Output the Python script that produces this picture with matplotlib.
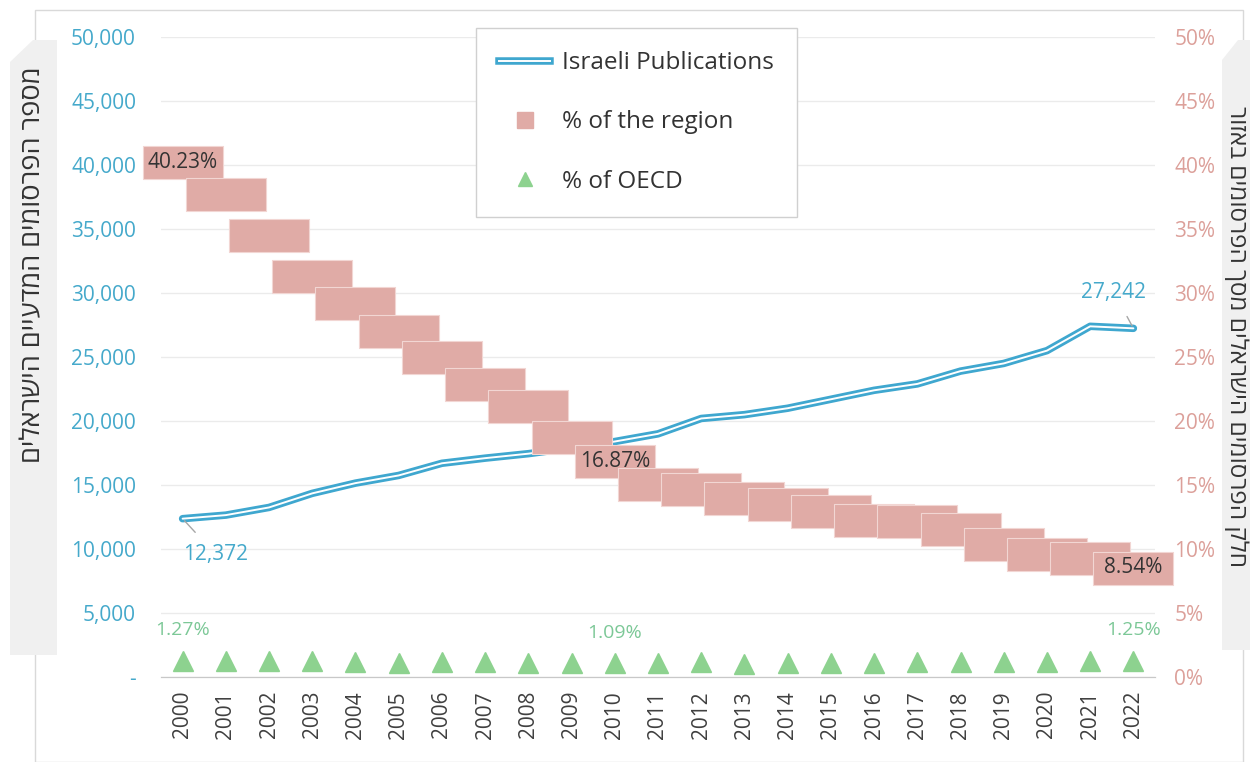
import matplotlib.pyplot as plt
import matplotlib.patheffects as pe
from matplotlib.lines import Line2D
from matplotlib.patches import Polygon, Rectangle
from matplotlib.path import Path

plt.rcParams['font.family'] = ['Open Sans', 'DejaVu Sans']

years = [str(y) for y in range(2000, 2023)]
publications = [12372, 12650, 13250, 14350, 15150, 15750, 16700, 17100, 17450,
                17900, 18400, 19000, 20200, 20500, 21000, 21700, 22400, 22900,
                23900, 24500, 25500, 27400, 27242]
region_pct = [40.23, 37.7, 34.5, 31.3, 29.2, 27.0, 25.0, 22.9, 21.2, 18.75,
              16.87, 15.1, 14.7, 14.0, 13.5, 13.0, 12.3, 12.2, 11.6, 10.4,
              9.6, 9.3, 8.54]
oecd_pct = [1.27, 1.28, 1.26, 1.25, 1.2, 1.12, 1.15, 1.18, 1.13, 1.1, 1.09,
            1.12, 1.14, 1.02, 1.12, 1.12, 1.13, 1.15, 1.15, 1.16, 1.19, 1.23,
            1.25]
left_ticks = list(range(0, 50001, 5000))
right_ticks = list(range(0, 51, 5))

# which points carry a label
region_labeled = [0, 10, 22]
oecd_labeled = [0, 10, 22]

blue = '#3FA7CF'
blue_txt = '#45A9CB'
pink = '#E0ABA6'
pink_txt = '#DCA09A'
green = '#8DD28F'
green_txt = '#7CC897'
dark = '#333333'

left_title = 'מספר הפרסומים המדעיים הישראלים'
right_title = 'חלק הפרסומים הישראלים מסך הפרסומים באזור'

W, H = 1250, 762
fig = plt.figure(figsize=(W / 100, H / 100), dpi=100)

# outer frame and side panels (pixel coords -> figure fraction)
def px(x, y):
    return (x / W, 1 - y / H)

fig.patches.append(Rectangle(px(35, 762), (1243 - 35) / W, (762 - 10) / H,
                             transform=fig.transFigure, fill=False,
                             edgecolor='#D9D9D9', lw=1))
fig.patches.append(Polygon([px(10, 655), px(57, 655), px(57, 40), px(33, 40),
                            px(10, 62)], closed=True, transform=fig.transFigure,
                           facecolor='#F0F0F0', edgecolor='none'))
fig.patches.append(Polygon([px(1222, 650), px(1250, 650), px(1250, 40),
                            px(1238, 40), px(1222, 60)], closed=True,
                           transform=fig.transFigure, facecolor='#F0F0F0',
                           edgecolor='none'))
fig.text(33 / W, 1 - 265 / H, left_title[::-1], rotation=90, ha='center',
         va='center', fontsize=19.5, color=dark)
fig.text(1236 / W, 1 - 337 / H, right_title[::-1], rotation=-90, ha='center',
         va='center', fontsize=17.5, color=dark)

ax = fig.add_axes([0.1288, 0.1115, 0.7952, 0.8399])
ax2 = ax.twinx()
x = list(range(len(years)))

# Israeli publications: double line
ax.plot(x, publications, color='white', lw=1.4, solid_joinstyle='round',
        solid_capstyle='round',
        path_effects=[pe.Stroke(linewidth=5.4, foreground=blue,
                                capstyle='round'), pe.Normal()],
        zorder=3)
ax.annotate(f'{publications[0]:,}', xy=(x[0], publications[0]),
            xytext=(24, -26), textcoords='offset points', ha='center',
            va='center', fontsize=15, color=blue_txt,
            arrowprops=dict(arrowstyle='-', color='#A6A6A6', lw=1,
                            shrinkA=9, shrinkB=2))
ax.annotate(f'{publications[-1]:,}', xy=(x[-1], publications[-1]),
            xytext=(-14, 26), textcoords='offset points', ha='center',
            va='center', fontsize=15, color=blue_txt,
            arrowprops=dict(arrowstyle='-', color='#A6A6A6', lw=1,
                            shrinkA=9, shrinkB=2))

# % of region: wide boxes
box = Path([(-40, -16.5), (40, -16.5), (40, 16.5), (-40, 16.5), (-40, -16.5)],
           [Path.MOVETO, Path.LINETO, Path.LINETO, Path.LINETO, Path.CLOSEPOLY])
ax2.plot(x, region_pct, ls='none', marker=box, markersize=57.6,
         markerfacecolor=pink, markeredgecolor='#F2D6D3', markeredgewidth=0.8,
         zorder=4, clip_on=False)
for i in region_labeled:
    ax2.text(x[i], region_pct[i], f'{region_pct[i]:.2f}%', ha='center',
             va='center', fontsize=15, color=dark, zorder=5)

# % of OECD: triangles
ax2.plot(x, oecd_pct, ls='none', marker='^', markersize=15, color=green,
         zorder=4, clip_on=False)
for i in oecd_labeled:
    ax2.annotate(f'{oecd_pct[i]:.2f}%', xy=(x[i], oecd_pct[i]),
                 xytext=(0, 22), textcoords='offset points', ha='center',
                 va='center', fontsize=14, color=green_txt)

ax.set_xlim(-0.5, len(years) - 0.5)
ax.set_ylim(0, 50000)
ax2.set_ylim(0, 50)
ax.set_xticks(x)
ax.set_xticklabels(years, rotation=90, fontsize=15, color='#404040')
ax.set_yticks(left_ticks)
ax.set_yticklabels(['-' if v == 0 else f'{v:,}' for v in left_ticks],
                   fontsize=15, color=blue_txt)
ax2.set_yticks(right_ticks)
ax2.set_yticklabels([f'{v}%' for v in right_ticks], fontsize=15, color=pink_txt)
ax.tick_params(axis='both', length=0)
ax.tick_params(axis='y', pad=18)
ax.tick_params(axis='x', pad=10)
ax2.tick_params(axis='y', length=0, pad=14)
ax.grid(axis='y', color='#EBEBEB', lw=1)
ax.set_axisbelow(True)
for a in (ax, ax2):
    for s in ('top', 'left', 'right'):
        a.spines[s].set_visible(False)
    a.spines['bottom'].set_color('#C8C8C8')

handles = [
    Line2D([], [], color='white', lw=1.4,
           path_effects=[pe.Stroke(linewidth=5.4, foreground=blue), pe.Normal()]),
    Line2D([], [], ls='none', marker='s', markersize=12, color=pink),
    Line2D([], [], ls='none', marker='^', markersize=10, color=green),
]
labels = ['Israeli Publications', '% of the region', '% of OECD']
leg = ax2.legend(handles, labels, loc='upper left',
                 bbox_to_anchor=(476 / W, 1 - 28 / H),
                 bbox_transform=fig.transFigure, fontsize=17.5, frameon=True,
                 fancybox=False, edgecolor='#D0D0D0', framealpha=1,
                 borderpad=0.95, labelspacing=1.45, handlelength=2.1,
                 handletextpad=0.5, borderaxespad=0)
leg.get_frame().set_linewidth(1)
for t in leg.get_texts():
    t.set_color(dark)

fig.savefig('out.png', dpi=100)
